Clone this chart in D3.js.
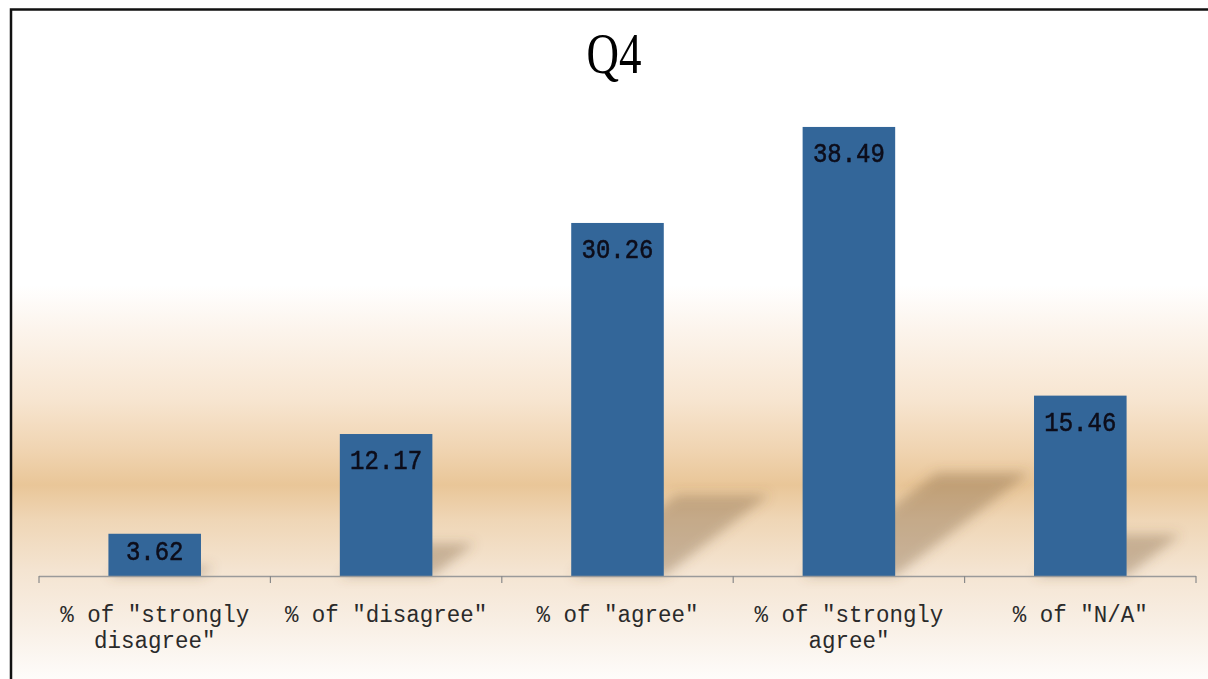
<!DOCTYPE html>
<html>
<head>
<meta charset="utf-8">
<script src="https://cdn.jsdelivr.net/npm/d3@7"></script>
<style>
  html, body { margin: 0; padding: 0; background: #ffffff; }
  svg { display: block; }
</style>
</head>
<body>
<svg id="chart" width="1208" height="679"></svg>
<script>
// ---- data ----
const title = "Q4";
const categories = ["strongly disagree", "disagree", "agree", "strongly agree", "N/A"];
const categoryLabels = [
  ['% of "strongly', 'disagree"'],
  ['% of "disagree"'],
  ['% of "agree"'],
  ['% of "strongly', 'agree"'],
  ['% of "N/A"']
];
const values = [3.62, 12.17, 30.26, 38.49, 15.46];
const valueLabels = ["3.62", "12.17", "30.26", "38.49", "15.46"];

// ---- layout ----
const W = 1208, H = 679;
const plot = { left: 39, right: 1196, top: 51, bottom: 576 };
const svg = d3.select("#chart");
const defs = svg.append("defs");

// background gradient
const bg = defs.append("linearGradient")
  .attr("id", "bgGrad").attr("gradientUnits", "userSpaceOnUse")
  .attr("x1", 0).attr("y1", 9).attr("x2", 0).attr("y2", H);
[[9, "#ffffff"], [285, "#ffffff"], [330, "#fcf4ec"], [400, "#f7e5d0"], [450, "#f0d4b1"],
 [485, "#e9c698"], [520, "#efd6b6"], [570, "#f4e4d1"], [620, "#f8eee3"], [679, "#fefcfa"]]
  .forEach(([y, c]) => bg.append("stop").attr("offset", ((y - 9) / (H - 9))).attr("stop-color", c));

const blur = defs.append("filter").attr("id", "shadowBlur")
  .attr("x", "-30%").attr("y", "-30%").attr("width", "160%").attr("height", "160%");
blur.append("feGaussianBlur").attr("stdDeviation", 6);

// frame background
svg.append("rect").attr("x", 11).attr("y", 9).attr("width", W).attr("height", H)
  .attr("fill", "url(#bgGrad)");

// scales
const x = d3.scaleBand().domain(categories)
  .range([plot.left, plot.right]).paddingInner(0.6).paddingOuter(0.3);
const y = d3.scaleLinear().domain([0, 45]).range([plot.bottom, plot.top]);

const data = categories.map((c, i) => ({ c, v: values[i], label: valueLabels[i], lines: categoryLabels[i] }));

// perspective shadows
svg.append("g").attr("filter", "url(#shadowBlur)")
  .selectAll("path").data(data).join("path")
  .attr("d", d => {
    const x0 = x(d.c), x1 = x(d.c) + x.bandwidth();
    const yb = y(0), sh = 0.23 * (y(0) - y(d.v)), dx = 1.3 * sh;
    return `M${x0},${yb}L${x1},${yb}L${x1 + dx},${yb - sh}L${x0 + dx},${yb - sh}Z`;
  })
  .attr("fill", "#7a5c3c").attr("opacity", 0.36);

// bars
svg.append("g").selectAll("rect").data(data).join("rect")
  .attr("x", d => x(d.c)).attr("width", x.bandwidth())
  .attr("y", d => y(d.v)).attr("height", d => y(0) - y(d.v))
  .attr("fill", "#336699");

// value labels
svg.append("g").selectAll("text").data(data).join("text")
  .attr("transform", d => `translate(${x(d.c) + x.bandwidth() / 2},${Math.min(y(d.v) + 35, y(0) - 16)}) scale(1,1.15)`)
  .attr("text-anchor", "middle")
  .attr("font-family", "'Liberation Mono', 'DejaVu Sans Mono', monospace")
  .attr("font-size", 24)
  .attr("fill", "#0d0d1a")
  .attr("stroke", "#0d0d1a").attr("stroke-width", 0.5)
  .text(d => d.label);

// axis line and ticks at category boundaries
const axisG = svg.append("g");
axisG.append("line")
  .attr("x1", plot.left).attr("x2", plot.right)
  .attr("y1", y(0) + 0.5).attr("y2", y(0) + 0.5)
  .attr("stroke", "#9a9a9a").attr("stroke-width", 1.5);
const gap = (x.step() - x.bandwidth()) / 2;
const bounds = categories.map(c => x(c) - gap).concat([x(categories[categories.length - 1]) + x.bandwidth() + gap]);
axisG.selectAll("line.tick").data(bounds).join("line").attr("class", "tick")
  .attr("x1", d => d).attr("x2", d => d)
  .attr("y1", y(0)).attr("y2", y(0) + 7)
  .attr("stroke", "#8a8a8a").attr("stroke-width", 1.2);

// category labels
const catG = svg.append("g").selectAll("g").data(data).join("g")
  .attr("transform", d => `translate(${x(d.c) + x.bandwidth() / 2},622) scale(1,1.1)`);
catG.selectAll("text").data(d => d.lines).join("text")
  .attr("x", 0)
  .attr("y", (l, i) => i * 26 / 1.1)
  .attr("text-anchor", "middle")
  .attr("font-family", "'Liberation Mono', 'DejaVu Sans Mono', monospace")
  .attr("font-size", 22.5)
  .attr("fill", "#2a2a2a")
  .attr("xml:space", "preserve")
  .text(l => l);

// title
svg.append("text")
  .attr("transform", "translate(614,73) scale(0.9,1.12)")
  .attr("text-anchor", "middle")
  .attr("font-family", "'Liberation Serif', 'DejaVu Serif', serif")
  .attr("font-size", 50)
  .attr("fill", "#000")
  .text(title);

// frame border (left and top, the rest is cropped in the reference)
svg.append("path")
  .attr("d", `M${W + 5},9.5 L11,9.5 L11,${H + 5}`)
  .attr("fill", "none").attr("stroke", "#111").attr("stroke-width", 2.5);
</script>
</body>
</html>
